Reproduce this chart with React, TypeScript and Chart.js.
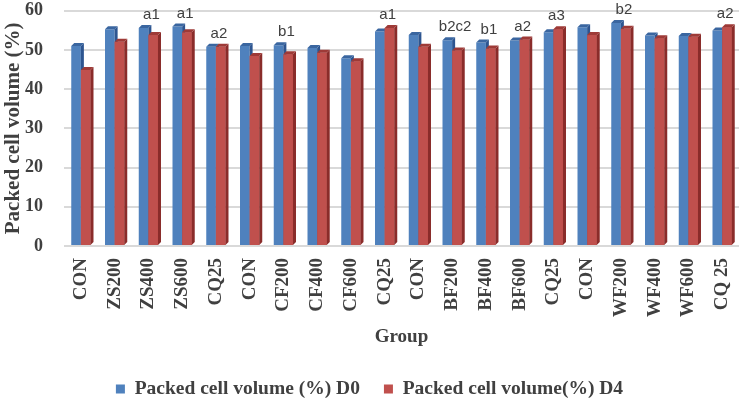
import { useEffect, useRef } from "react";
import { Chart, registerables } from "chart.js";

Chart.register(...registerables);

const categories = [
  "CON", "ZS200", "ZS400", "ZS600", "CQ25",
  "CON", "CF200", "CF400", "CF600", "CQ25",
  "CON", "BF200", "BF400", "BF600", "CQ25",
  "CON", "WF200", "WF400", "WF600", "CQ 25",
];
const pcvD0 = [
  51.0, 55.3, 55.6, 56.0, 50.8,
  51.0, 51.2, 50.5, 47.9, 54.7,
  53.8, 52.5, 51.9, 52.4, 54.5,
  55.8, 56.9, 53.7, 53.6, 55.0,
];
const pcvD4 = [
  44.9, 52.1, 53.8, 54.5, 50.8,
  48.5, 48.9, 49.3, 47.1, 55.6,
  50.8, 49.9, 50.4, 52.7, 55.3,
  53.8, 55.4, 53.0, 53.4, 55.8,
];
const significance = [
  "", "", "a1", "a1", "a2",
  "", "b1", "", "", "a1",
  "", "b2c2", "b1", "a2", "a3",
  "", "b2", "", "", "a2",
];
const seriesNames = ["Packed cell volume (%) D0", "Packed cell volume(%) D4"];
const yMin = 0;
const yMax = 60;
const yStep = 10;
const yTitle = "Packed cell volume (%)";
const xTitle = "Group";

const frontColors = ["#4F81BD", "#C0504D"];
const sideColors = ["#2D5590", "#8A2C2A"];
const topColors = ["#3A66A0", "#9E3A37"];
const DEPTH = 3;
const SERIF = "'Liberation Serif', 'Times New Roman', serif";
const TEXT = "#404040";

const bar3d = {
  id: "bar3d",
  afterDatasetsDraw(chart: any) {
    const ctx = chart.ctx;
    ctx.save();
    const tops: number[] = [];
    chart.data.datasets.forEach((ds: any, di: number) => {
      const meta = chart.getDatasetMeta(di);
      meta.data.forEach((el: any, i: number) => {
        const { x, y, base, width } = el.getProps(["x", "y", "base", "width"], true);
        const l = x - width / 2;
        const r = x + width / 2;
        if (di > 0) {
          ctx.fillStyle = frontColors[di];
          ctx.fillRect(l, y, width, base - y);
        }
        ctx.fillStyle = sideColors[di];
        ctx.beginPath();
        ctx.moveTo(r, y);
        ctx.lineTo(r + DEPTH, y - DEPTH);
        ctx.lineTo(r + DEPTH, base - DEPTH);
        ctx.lineTo(r, base);
        ctx.closePath();
        ctx.fill();
        ctx.fillStyle = topColors[di];
        ctx.beginPath();
        ctx.moveTo(l, y);
        ctx.lineTo(l + DEPTH, y - DEPTH);
        ctx.lineTo(r + DEPTH, y - DEPTH);
        ctx.lineTo(r, y);
        ctx.closePath();
        ctx.fill();
        const t = y - DEPTH;
        tops[i] = tops[i] === undefined ? t : Math.min(tops[i], t);
      });
    });
    const xScale = chart.scales.x;
    ctx.fillStyle = TEXT;
    ctx.font = "15px 'Liberation Sans', Arial, sans-serif";
    ctx.textAlign = "center";
    ctx.textBaseline = "middle";
    significance.forEach((s, i) => {
      if (!s) return;
      const cx = xScale.getPixelForValue(i) + 3;
      ctx.fillText(s, cx, tops[i] - 10);
    });
    ctx.restore();
  },
};

export default function App() {
  const ref = useRef<HTMLCanvasElement>(null);
  useEffect(() => {
    if (!ref.current) return;
    const chart = new Chart(ref.current, {
      type: "bar",
      data: {
        labels: categories,
        datasets: [
          {
            label: seriesNames[0],
            data: pcvD0,
            backgroundColor: frontColors[0],
            categoryPercentage: 0.57,
            barPercentage: 1,
          },
          {
            label: seriesNames[1],
            data: pcvD4,
            backgroundColor: frontColors[1],
            categoryPercentage: 0.57,
            barPercentage: 1,
          },
        ],
      },
      options: {
        responsive: false,
        animation: false,
        layout: { padding: { left: 0, right: 10, top: 10, bottom: -8.75 } },
        plugins: {
          tooltip: { enabled: false },
          legend: {
            position: "bottom",
            labels: {
              boxWidth: 9,
              boxHeight: 9,
              padding: 24,
              color: TEXT,
              font: { family: SERIF, size: 19.5, weight: "bold" },
            },
          },
        },
        scales: {
          x: {
            grid: {
              display: true,
              drawOnChartArea: false,
              drawTicks: true,
              tickLength: 12,
              tickColor: "rgba(0,0,0,0)",
            },
            border: { display: false },
            ticks: {
              minRotation: 90,
              maxRotation: 90,
              padding: 0,
              color: TEXT,
              font: { family: SERIF, size: 19, weight: "bold" },
            },
            title: {
              display: true,
              text: xTitle,
              color: TEXT,
              font: { family: SERIF, size: 19, weight: "bold" },
              padding: { top: 0, bottom: 7 },
            },
            afterFit(scale: any) {
              scale.height = 109.25;
            },
          },
          y: {
            min: yMin,
            max: yMax,
            ticks: {
              stepSize: yStep,
              padding: 0,
              color: TEXT,
              font: { family: SERIF, size: 18, weight: "bold" },
            },
            grid: {
              color: "#D9D9D9",
              lineWidth: 2,
              drawTicks: true,
              tickLength: 21,
              tickColor: "rgba(0,0,0,0)",
            },
            border: { display: false },
            title: {
              display: true,
              text: yTitle,
              color: TEXT,
              font: { family: SERIF, size: 21, weight: "bold" },
              padding: { top: 1, bottom: 0 },
            },
            afterFit(scale: any) {
              scale.width = 64;
            },
          },
        },
      },
      plugins: [bar3d],
    });
    return () => chart.destroy();
  }, []);
  return (
    <div style={{ position: "absolute", left: 0, top: 0, width: 749, height: 400, background: "#fff" }}>
      <canvas ref={ref} width={749} height={400} style={{ display: "block" }} />
    </div>
  );
}
